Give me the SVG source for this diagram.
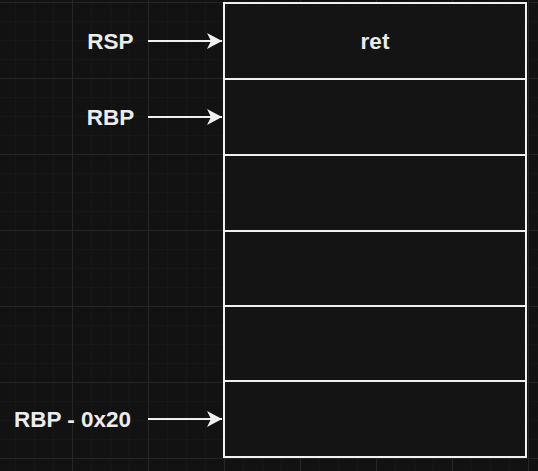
<svg xmlns="http://www.w3.org/2000/svg" width="538" height="471" viewBox="0 0 538 471">
<defs>
<pattern id="minor" x="15" y="2" width="19" height="19" patternUnits="userSpaceOnUse"><path d="M0 0H19M0 0V19" fill="none" stroke="#1b1b1b" stroke-width="1"/></pattern>
<pattern id="major" x="72" y="2" width="76" height="76" patternUnits="userSpaceOnUse"><path d="M0 0.5H76M0.5 0V76" fill="none" stroke="#262626" stroke-width="1"/></pattern>
<marker id="ah" markerUnits="userSpaceOnUse" markerWidth="18" markerHeight="18" viewBox="0 0 16 18" refX="15" refY="9" orient="auto"><path d="M15 9L0 1L4 9L0 17Z" fill="#f0f0f0"/></marker>
</defs>
<style>
.lbl{font-family:"Liberation Sans",Arial,sans-serif;font-size:22.5px;font-weight:bold;fill:#ececec;text-anchor:middle}
.cell{fill:#141414;stroke:#f0f0f0;stroke-width:2}
.conn{stroke:#f0f0f0;stroke-width:2;fill:none;marker-end:url(#ah)}
</style>
<rect width="538" height="471" fill="#121212"/>
<rect width="538" height="471" fill="url(#minor)"/>
<rect width="538" height="471" fill="url(#major)"/>
<g id="stack">
<g id="cell0"><rect class="cell" x="224" y="3" width="302" height="76"/><text class="lbl" x="375" y="49">ret</text></g>
<g id="cell1"><rect class="cell" x="224" y="79" width="302" height="76"/></g>
<g id="cell2"><rect class="cell" x="224" y="155" width="302" height="76"/></g>
<g id="cell3"><rect class="cell" x="224" y="231" width="302" height="75"/></g>
<g id="cell4"><rect class="cell" x="224" y="306" width="302" height="75"/></g>
<g id="cell5"><rect class="cell" x="224" y="381" width="302" height="76"/></g>
</g>
<g id="rsp"><text class="lbl" x="110.5" y="49">RSP</text></g>
<g id="rbp"><text class="lbl" x="110.5" y="125">RBP</text></g>
<g id="rbp20"><text class="lbl" x="72.5" y="427">RBP - 0x20</text></g>
<g id="connectors">
<path class="conn" d="M148 41H222"/>
<path class="conn" d="M148 117H222"/>
<path class="conn" d="M148 419H222"/>
</g>
</svg>
